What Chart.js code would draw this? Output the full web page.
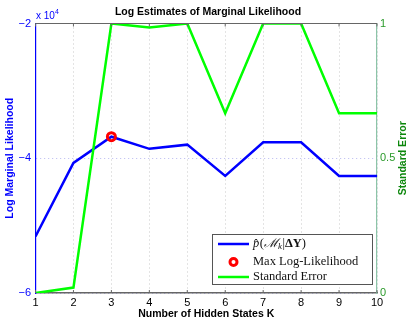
<!DOCTYPE html>
<html>
<head>
<meta charset="utf-8">
<script src="https://cdn.jsdelivr.net/npm/chart.js@4"></script>
<style>
  html, body { margin: 0; padding: 0; background: #fff; }
  canvas { display: block; }
</style>
</head>
<body>
<canvas id="chart" width="415" height="323"></canvas>
<script>
// hidden states K
const states = [1, 2, 3, 4, 5, 6, 7, 8, 9, 10];
// log marginal likelihood (raw values, axis shows x 10^4)
const logLik = [-51600, -40700, -36800, -38600, -37980, -42630, -37630, -37630, -42630, -42630];
// standard error (right axis)
const stdErr = [0, 0.02, 1, 0.985, 1, 0.667, 1, 1, 0.667, 0.667];
// best model
const bestK = 3;
const bestLik = -36800;

const leftTicks = [-60000, -40000, -20000];
const rightTicks = [0, 0.5, 1];

const blue = '#0000ff';
const green = '#00ff00';
const greenAxis = '#2a9a2a';
const greenTitle = '#0c870c';

function pts(xs, ys) {
  return xs.map((x, i) => ({ x: x, y: ys[i] }));
}

// title, frame, x10^4 label, right title and legend
const extras = {
  id: 'extras',
  afterDraw(chart) {
    const ctx = chart.ctx;
    const a = chart.chartArea;
    const xs = chart.scales.x;
    ctx.save();

    // top frame line and inward ticks
    ctx.strokeStyle = '#666';
    ctx.lineWidth = 1.2;
    ctx.beginPath();
    ctx.moveTo(a.left, a.top);
    ctx.lineTo(a.right, a.top);
    ctx.stroke();
    ctx.lineWidth = 1;
    states.forEach(k => {
      const px = xs.getPixelForValue(k);
      ctx.beginPath();
      ctx.moveTo(px, a.top); ctx.lineTo(px, a.top + 3);
      ctx.moveTo(px, a.bottom); ctx.lineTo(px, a.bottom - 3);
      ctx.stroke();
    });

    // title
    ctx.fillStyle = '#000';
    ctx.font = 'bold 10.5px "Liberation Sans", Arial, sans-serif';
    ctx.textAlign = 'center';
    ctx.textBaseline = 'middle';
    ctx.fillText('Log Estimates of Marginal Likelihood', 208, 12);

    // exponent label
    ctx.fillStyle = blue;
    ctx.textAlign = 'left';
    ctx.font = '10px "Liberation Sans", Arial, sans-serif';
    ctx.fillText('x 10', 36, 16);
    ctx.font = '7px "Liberation Sans", Arial, sans-serif';
    ctx.fillText('4', 55, 12);

    // right axis title, reading upward
    ctx.save();
    ctx.translate(403.5, (a.top + a.bottom) / 2);
    ctx.rotate(-Math.PI / 2);
    ctx.fillStyle = greenTitle;
    ctx.textAlign = 'center';
    ctx.font = 'bold 10.5px "Liberation Sans", Arial, sans-serif';
    ctx.fillText('Standard Error', 0, 0);
    ctx.restore();

    // legend box
    const bx = 212, by = 234, bw = 160, bh = 50;
    ctx.fillStyle = '#fff';
    ctx.fillRect(bx, by, bw, bh);
    ctx.strokeStyle = '#555';
    ctx.lineWidth = 1;
    ctx.strokeRect(bx + 0.5, by + 0.5, bw, bh);

    const rows = [244, 262, 277];
    const tx = 253;
    ctx.lineWidth = 2.5;
    ctx.strokeStyle = blue;
    ctx.beginPath(); ctx.moveTo(218, rows[0]); ctx.lineTo(249, rows[0]); ctx.stroke();
    ctx.strokeStyle = green;
    ctx.beginPath(); ctx.moveTo(218, rows[2]); ctx.lineTo(249, rows[2]); ctx.stroke();
    ctx.strokeStyle = '#ff0000';
    ctx.lineWidth = 3;
    ctx.beginPath(); ctx.arc(233.5, rows[1], 3.5, 0, Math.PI * 2); ctx.stroke();

    ctx.fillStyle = '#111';
    ctx.textAlign = 'left';
    ctx.textBaseline = 'middle';
    const serif = '"Liberation Serif", "DejaVu Serif", serif';
    // p-hat(M_k | ΔY)
    let x = tx;
    ctx.font = 'italic 12.5px ' + serif;
    ctx.fillText('p\u0302', x, rows[0]); x += ctx.measureText('p').width + 0.5;
    ctx.font = '12.5px ' + serif;
    ctx.fillText('(', x, rows[0]); x += ctx.measureText('(').width;
    ctx.font = 'italic 12.5px ' + serif;
    ctx.fillText('\u2133', x, rows[0]); x += ctx.measureText('\u2133').width;
    ctx.font = 'italic 9px ' + serif;
    ctx.fillText('k', x, rows[0] + 3); x += ctx.measureText('k').width + 0.5;
    ctx.font = '12.5px ' + serif;
    ctx.fillText('|', x, rows[0]); x += ctx.measureText('|').width;
    ctx.font = 'bold 12.5px ' + serif;
    ctx.fillText('\u0394Y', x, rows[0]); x += ctx.measureText('\u0394Y').width;
    ctx.font = '12.5px ' + serif;
    ctx.fillText(')', x, rows[0]);

    ctx.fillText('Max Log-Likelihood', tx, rows[1]);
    ctx.fillText('Standard Error', tx, rows[2]);

    ctx.restore();
  }
};

const minus = v => String(v).replace('-', '\u2212');

new Chart(document.getElementById('chart'), {
  type: 'line',
  data: {
    datasets: [
      {
        label: 'Standard Error',
        data: pts(states, stdErr),
        yAxisID: 'y1',
        borderColor: green,
        borderWidth: 2.5,
        pointRadius: 0,
        fill: false,
        tension: 0,
        order: 0
      },
      {
        label: 'Max Log-Likelihood',
        data: [{ x: bestK, y: bestLik }],
        yAxisID: 'y',
        showLine: false,
        pointRadius: 4,
        pointBorderWidth: 3,
        pointBorderColor: '#ff0000',
        pointBackgroundColor: 'rgba(0,0,0,0)',
        order: 1
      },
      {
        label: 'p(M|dY)',
        data: pts(states, logLik),
        yAxisID: 'y',
        borderColor: blue,
        borderWidth: 2.5,
        pointRadius: 0,
        fill: false,
        tension: 0,
        order: 2
      }
    ]
  },
  options: {
    responsive: false,
    animation: false,
    layout: { padding: { top: 23.5, left: 0, right: 0, bottom: 0 } },
    plugins: {
      legend: { display: false },
      tooltip: { enabled: false }
    },
    scales: {
      x: {
        type: 'linear',
        min: 1,
        max: 10,
        afterFit(scale) { scale.height = 30; },
        ticks: {
          stepSize: 1,
          padding: 3,
          color: '#000',
          font: { family: '"Liberation Sans", Arial, sans-serif', size: 11 }
        },
        grid: {
          color: '#c8c8c8',
          lineWidth: 1,
          drawTicks: false
        },
        border: { color: '#666', width: 1.5, dash: [1, 3] },
        title: {
          display: true,
          text: 'Number of Hidden States K',
          color: '#000',
          padding: { top: 0, bottom: 2.2 },
          font: { family: '"Liberation Sans", Arial, sans-serif', size: 10.5, weight: 'bold' }
        }
      },
      y: {
        position: 'left',
        min: -60000,
        max: -20000,
        afterFit(scale) { scale.width = 35.5; },
        afterBuildTicks(scale) { scale.ticks = leftTicks.map(v => ({ value: v })); },
        ticks: {
          padding: 4.5,
          color: blue,
          font: { family: '"Liberation Sans", Arial, sans-serif', size: 11 },
          callback: v => minus(v / 10000)
        },
        grid: {
          color: '#b8b8f0',
          lineWidth: 1,
          drawTicks: false
        },
        border: { color: blue, width: 1.2, dash: [1, 3] },
        title: {
          display: true,
          text: 'Log Marginal Likelihood',
          color: blue,
          padding: { top: 3.7, bottom: 0 },
          font: { family: '"Liberation Sans", Arial, sans-serif', size: 10.5, weight: 'bold' }
        }
      },
      y1: {
        position: 'right',
        min: 0,
        max: 1,
        afterFit(scale) { scale.width = 38; },
        afterBuildTicks(scale) { scale.ticks = rightTicks.map(v => ({ value: v })); },
        ticks: {
          padding: 3,
          color: greenAxis,
          font: { family: '"Liberation Sans", Arial, sans-serif', size: 11 },
          callback: v => String(v)
        },
        grid: { display: false, drawTicks: false },
        border: { color: '#8cc4a8', width: 1.2 }
      }
    }
  },
  plugins: [extras]
});
</script>
</body>
</html>
